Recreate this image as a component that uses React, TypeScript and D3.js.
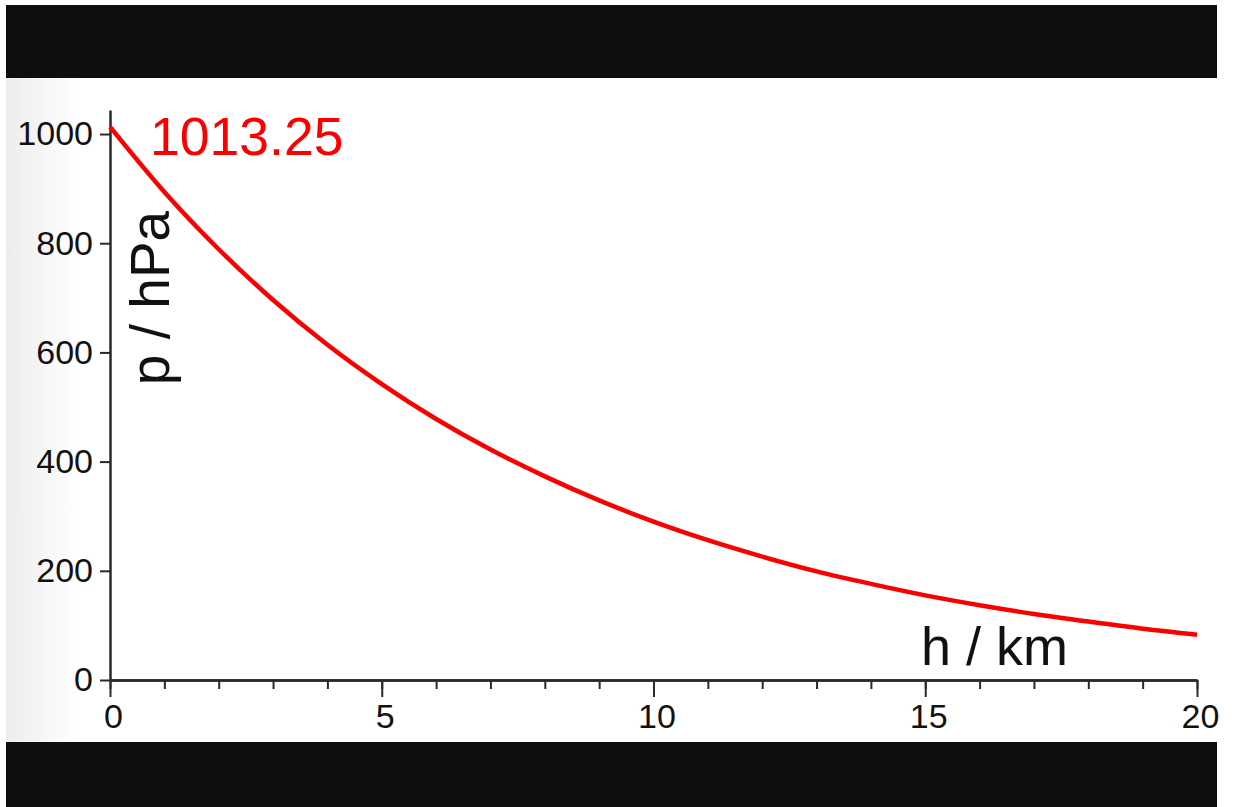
import { useEffect, useRef } from "react";
import * as d3 from "d3";

// pressure, one value per km of height
const heightsKm = [0, 1, 2, 3, 4, 5, 6, 7, 8, 9, 10, 11, 12, 13, 14, 15, 16, 17, 18, 19, 20];
const pressureHpa = [1013.25, 894, 789, 696, 614, 542, 478, 422, 373, 329, 290, 256, 226, 199, 176, 155, 137, 121, 107, 94, 83];
const yTicks = [0, 200, 400, 600, 800, 1000];
const xMajorTicks = [0, 5, 10, 15, 20];
const xMinorTicks = heightsKm;
const seaLevelLabel = "1013.25";

const W = 1234;
const H = 807;

export default function App() {
  const svgRef = useRef<SVGSVGElement>(null);

  useEffect(() => {
    if (!svgRef.current) return;
    const svg = d3.select(svgRef.current);
    svg.selectAll("*").remove();

    const font = "'Liberation Sans', Arial, sans-serif";
    const x = d3.scaleLinear().domain([0, 20]).range([110, 1197]);
    const y = d3.scaleLinear().domain([0, 1044]).range([680, 110]);

    // background + faint grey edge at the left
    const defs = svg.append("defs");
    const grad = defs
      .append("linearGradient")
      .attr("id", "edge")
      .attr("x1", "0")
      .attr("x2", "1")
      .attr("y1", "0")
      .attr("y2", "0");
    grad.append("stop").attr("offset", "0%").attr("stop-color", "#ececec");
    grad.append("stop").attr("offset", "100%").attr("stop-color", "#ffffff");

    svg.append("rect").attr("width", W).attr("height", H).attr("fill", "#ffffff");
    svg.append("rect").attr("x", 6).attr("y", 78).attr("width", 70).attr("height", 664).attr("fill", "url(#edge)");

    // black bars
    svg.append("rect").attr("x", 6).attr("y", 5).attr("width", 1211).attr("height", 73).attr("fill", "#0e0e0e");
    svg.append("rect").attr("x", 6).attr("y", 742).attr("width", 1211).attr("height", 65).attr("fill", "#0e0e0e");

    const styleAxis = (g: d3.Selection<SVGGElement, unknown, null, undefined>) => {
      g.select(".domain").attr("stroke", "#2a2a2a").attr("stroke-width", 2.5);
      g.selectAll(".tick line").attr("stroke", "#2a2a2a").attr("stroke-width", 2);
      g.selectAll(".tick text").attr("fill", "#111").attr("font-size", "34px").attr("font-family", font);
    };

    // x axis: minor ticks
    svg
      .append("g")
      .attr("transform", `translate(0,${y(0)})`)
      .call(d3.axisBottom(x).tickValues(xMinorTicks).tickSize(9).tickSizeOuter(0).tickFormat(() => ""))
      .call(styleAxis);

    // x axis: major ticks with labels
    svg
      .append("g")
      .attr("transform", `translate(0,${y(0)})`)
      .call(
        d3
          .axisBottom(x)
          .tickValues(xMajorTicks)
          .tickSize(17)
          .tickSizeOuter(0)
          .tickPadding(7)
          .tickFormat((d) => String(d)),
      )
      .call(styleAxis)
      .call((g) => g.selectAll(".tick text").attr("dx", "3"));

    // y axis
    svg
      .append("g")
      .attr("transform", `translate(${x(0)},0)`)
      .call(
        d3
          .axisLeft(y)
          .tickValues(yTicks)
          .tickSize(10)
          .tickSizeOuter(0)
          .tickPadding(7)
          .tickFormat((d) => String(d)),
      )
      .call(styleAxis);

    // curve
    const line = d3
      .line<number>()
      .x((_, i) => x(heightsKm[i]))
      .y((d) => y(d))
      .curve(d3.curveMonotoneX);

    svg
      .append("path")
      .datum(pressureHpa)
      .attr("d", line)
      .attr("fill", "none")
      .attr("stroke", "#fa0000")
      .attr("stroke-width", 4.5);

    // labels
    svg
      .append("text")
      .attr("x", 150)
      .attr("y", 155)
      .attr("fill", "#fa0000")
      .attr("font-family", font)
      .attr("font-size", "53.5px")
      .text(seaLevelLabel);

    svg
      .append("text")
      .attr("transform", "translate(169,298) rotate(-90)")
      .attr("text-anchor", "middle")
      .attr("fill", "#111")
      .attr("font-family", font)
      .attr("font-size", "55px")
      .text("p / hPa");

    svg
      .append("text")
      .attr("x", 921)
      .attr("y", 665)
      .attr("fill", "#111")
      .attr("font-family", font)
      .attr("font-size", "54px")
      .text("h / km");
  }, []);

  return (
    <div style={{ position: "fixed", left: 0, top: 0, width: W, height: H }}>
      <svg ref={svgRef} width={W} height={H} style={{ display: "block" }} role="img" aria-label="Air pressure versus altitude" />
    </div>
  );
}
